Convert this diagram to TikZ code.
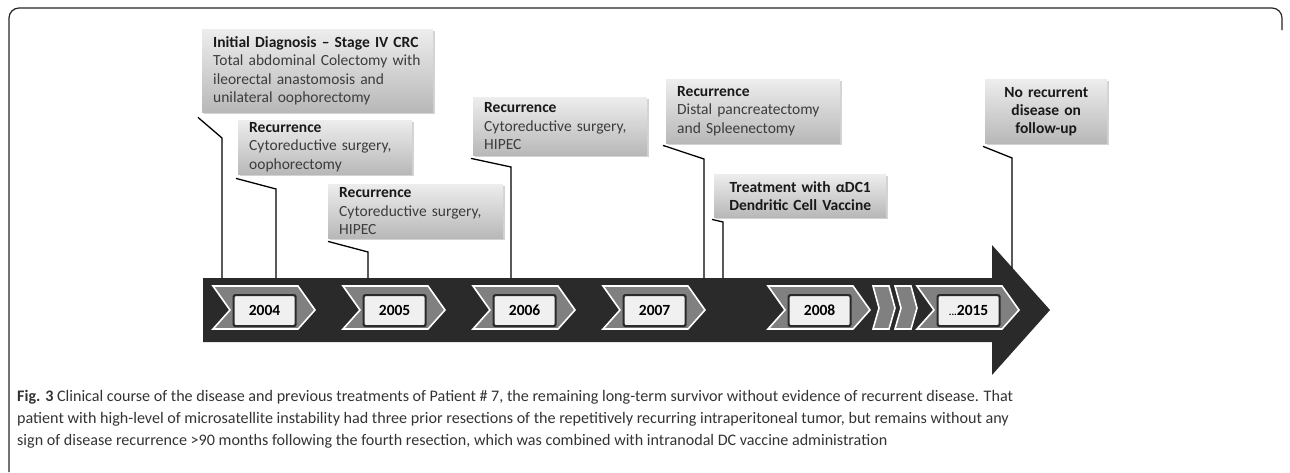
\documentclass[tikz,border=0pt]{standalone}
\usepackage{fontspec}
\setmainfont{Carlito}
\usetikzlibrary{shadows}
\definecolor{arrowdark}{HTML}{2A2A2A}
\definecolor{chevgray}{HTML}{808080}
\definecolor{yearfill}{HTML}{F0F0F0}
\definecolor{boxtop}{HTML}{EDEDED}
\definecolor{boxbot}{HTML}{B8B8B8}
\definecolor{bodytext}{HTML}{3C3C3C}
\definecolor{capt}{HTML}{333333}
\tikzset{
  cbox/.style={anchor=north west, draw=none, top color=boxtop, bottom color=boxbot,
    drop shadow={opacity=0.35, shadow xshift=1.5pt, shadow yshift=-1.5pt},
    inner xsep=11pt, inner ysep=0pt, align=left, text=bodytext,
    font=\fontsize{15.5}{18.5}\selectfont},
  cboxc/.style={cbox, align=center, text=black!90, font=\fontsize{15.5}{18}\selectfont\bfseries},
  lead/.style={draw=black, line width=1.3pt},
  chevron/.style={fill=chevgray, draw=white, line width=1.6pt, line join=miter},
  yearbox/.style={fill=yearfill, draw=arrowdark, line width=2.2pt, rounded corners=2pt,
    font=\fontsize{15.5}{15.5}\selectfont\bfseries, inner sep=0pt},
  captline/.style={anchor=west, text=capt, inner sep=0pt, font=\fontsize{16.1}{16.1}\selectfont}
}
\newcommand{\hd}[1]{{\bfseries\color{black!90}#1}}
\newcommand{\mychev}[3]{%
  \draw[chevron] (#1,286) -- ++(85,0) -- ++(17,24) -- ++(-17,19) -- ++(-85,0) -- ++(17,-19) -- cycle;
  \node[yearbox, minimum width=62pt, minimum height=31pt, anchor=north west] (#3) at ({#1+19.5},294) {#2};
}
\newcommand{\smallchev}[1]{%
  \draw[chevron] (#1,286) -- ++(16,0) -- ++(6,22) -- ++(-6,21) -- ++(-16,0) -- ++(6,-21) -- cycle;
}
\begin{document}
\begin{tikzpicture}[x=1pt,y=-1pt]
\useasboundingbox (0,0) rectangle (1290,472);
% frame
\draw[line width=1.2pt, rounded corners=10pt, black!85] (9,472) -- (9,8) -- (1282,8) -- (1282,30);

% big arrow
\fill[arrowdark] (203,278) -- (992,278) -- (992,245) -- (1050,310) -- (992,375) -- (992,342) -- (203,342) -- cycle;

% chevrons
\mychev{213}{2004}{y2004}
\mychev{343}{2005}{y2005}
\mychev{473}{2006}{y2006}
\mychev{603}{2007}{y2007}
\mychev{768}{2008}{y2008}
\smallchev{873}
\smallchev{895}
\mychev{917}{\textbf{\fontsize{10}{10}\selectfont...}2015}{y2015}

% callout boxes
\node[cbox, minimum width=231pt, minimum height=83pt, text width=209pt] (b1) at (202,29)
  {\hd{Initial Diagnosis -- Stage IV CRC}\\Total abdominal Colectomy with\\ileorectal anastomosis and\\unilateral oophorectomy};
\node[cbox, minimum width=174pt, minimum height=54pt, text width=152pt] (b2) at (238,120)
  {\hd{Recurrence}\\Cytoreductive surgery,\\oophorectomy};
\node[cbox, minimum width=175pt, minimum height=54pt, text width=153pt] (b3) at (328,184)
  {\hd{Recurrence}\\Cytoreductive surgery,\\HIPEC};
\node[cbox, minimum width=174pt, minimum height=58pt, text width=152pt] (b4) at (473,97)
  {\hd{Recurrence}\\Cytoreductive surgery,\\HIPEC};
\node[cbox, minimum width=174pt, minimum height=64pt, text width=152pt] (b5) at (666,79)
  {\hd{Recurrence}\\Distal pancreatectomy\\and Spleenectomy};
\node[cboxc, minimum width=165pt, minimum height=43pt, text width=150pt] (b6) at (714,174)
  {Treatment with αDC1\\Dendritic Cell Vaccine};
\node[cboxc, minimum width=118pt, minimum height=64pt, text width=100pt] (b7) at (985,79)
  {No recurrent\\disease on\\follow-up};

% leader coordinates on arrow
\coordinate (e1) at (222,278);
\coordinate (e2) at (276,278);
\coordinate (e3) at (368,278);
\coordinate (e4) at (511,278);
\coordinate (e5) at (704,278);
\coordinate (e6) at (723,278);
\coordinate (e7) at (1012,268);

\draw[lead] ([shift={(-4,5)}]b1.south west) -- (222,138) -- (e1);
\draw[lead] ([shift={(-2,4)}]b2.south west) -- (276,189) -- (e2);
\draw[lead] ([shift={(0,3)}]b3.south west) -- (368,252) -- (e3);
\draw[lead] ([shift={(-2,3)}]b4.south west) -- (511,167) -- (e4);
\draw[lead] ([shift={(-3,2)}]b5.south west) -- (704,159) -- (e5);
\draw[lead] ([shift={(-2,2)}]b6.south west) -- (723,222) -- (e6);
\draw[lead] ([shift={(-2,3)}]b7.south west) -- (1012,158) -- (e7);

% caption
\node[captline] (c1) at (17,397) {\textbf{Fig. 3} Clinical course of the disease and previous treatments of Patient \# 7, the remaining long-term survivor without evidence of recurrent disease. That};
\node[captline] (c2) at (17,419) {patient with high-level of microsatellite instability had three prior resections of the repetitively recurring intraperitoneal tumor, but remains without any};
\node[captline] (c3) at (17,441) {sign of disease recurrence >90 months following the fourth resection, which was combined with intranodal DC vaccine administration};
\end{tikzpicture}
\end{document}
